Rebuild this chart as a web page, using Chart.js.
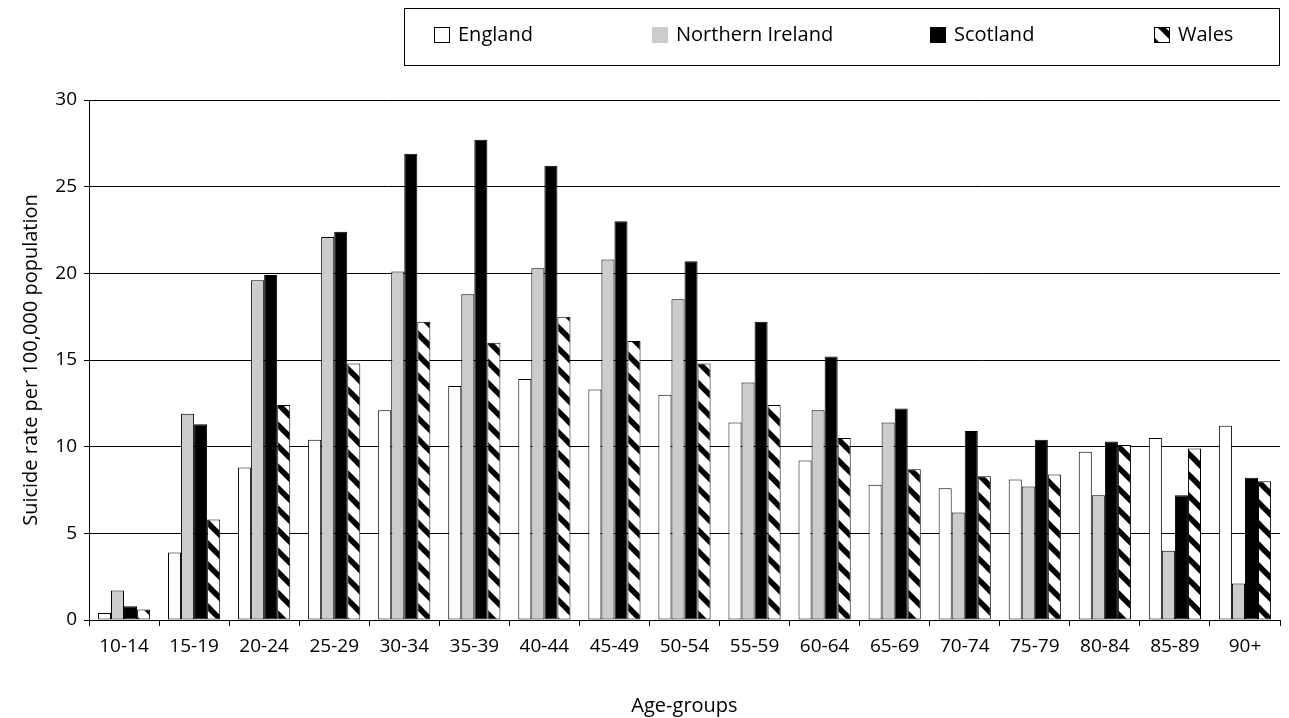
<!DOCTYPE html>
<html>
<head>
<meta charset="utf-8">
<script src="https://cdn.jsdelivr.net/npm/chart.js@4.4.1/dist/chart.umd.min.js"></script>
<style>
html,body{margin:0;padding:0;background:#fff;}
#wrap{width:1289px;height:718px;position:relative;}
</style>
</head>
<body>
<div id="wrap"><canvas id="c" width="1289" height="718"></canvas></div>
<script>
// ---- Data ----
const categories = ['10-14','15-19','20-24','25-29','30-34','35-39','40-44','45-49','50-54','55-59','60-64','65-69','70-74','75-79','80-84','85-89','90+'];
const england         = [0.4, 3.9, 8.8, 10.4, 12.1, 13.5, 13.9, 13.3, 13.0, 11.4, 9.2, 7.8, 7.6, 8.1, 9.7, 10.5, 11.2];
const northernIreland = [1.7, 11.9, 19.6, 22.1, 20.1, 18.8, 20.3, 20.8, 18.5, 13.7, 12.1, 11.4, 6.2, 7.7, 7.2, 4.0, 2.1];
const scotland        = [0.8, 11.3, 19.9, 22.4, 26.9, 27.7, 26.2, 23.0, 20.7, 17.2, 15.2, 12.2, 10.9, 10.4, 10.3, 7.2, 8.2];
const wales           = [0.6, 5.8, 12.4, 14.8, 17.2, 16.0, 17.5, 16.1, 14.8, 12.4, 10.5, 8.7, 8.3, 8.4, 10.1, 9.9, 8.0];
const seriesNames = ['England', 'Northern Ireland', 'Scotland', 'Wales'];
const yTickValues = [0, 5, 10, 15, 20, 25, 30];
const yTitle = 'Suicide rate per 100,000 population';
const xTitle = 'Age-groups';

// ---- Styles ----
const FONT = '"Open Sans", "DejaVu Sans", sans-serif';
const canvas = document.getElementById('c');
const mainCtx = canvas.getContext('2d');

function makeHatch() {
  const s = 21;
  const c = document.createElement('canvas');
  c.width = s; c.height = s;
  const g = c.getContext('2d');
  g.fillStyle = '#fff';
  g.fillRect(0, 0, s, s);
  g.strokeStyle = '#000';
  g.lineWidth = 5.5;
  for (const o of [-s, 0, s]) {
    g.beginPath();
    g.moveTo(o - s, -s);
    g.lineTo(o + 2 * s, 2 * s);
    g.stroke();
  }
  return mainCtx.createPattern(c, 'repeat');
}
const hatch = makeHatch();
const fills = ['#ffffff', '#cccccc', '#000000', hatch];
const seriesData = [england, northernIreland, scotland, wales];

const boxLegend = {
  id: 'boxLegend',
  afterDraw(chart, args, opts) {
    const ctx = chart.ctx;
    ctx.save();
    ctx.strokeStyle = '#000';
    ctx.lineWidth = 1;
    ctx.strokeRect(opts.box[0] + 0.5, opts.box[1] + 0.5, opts.box[2], opts.box[3]);
    ctx.font = '20px ' + FONT;
    ctx.textBaseline = 'middle';
    ctx.textAlign = 'left';
    chart.data.datasets.forEach((ds, i) => {
      const x = opts.itemX[i], y = opts.itemY, sz = opts.size;
      ctx.fillStyle = ds.backgroundColor;
      ctx.fillRect(x, y - sz / 2, sz, sz);
      if (opts.stroke[i]) {
        ctx.strokeStyle = '#000';
        ctx.lineWidth = 1;
        ctx.strokeRect(x + 0.5, y - sz / 2 + 0.5, sz - 1, sz - 1);
      }
      ctx.fillStyle = '#000';
      ctx.fillText(ds.label, x + opts.textGap, y);
    });
    ctx.restore();
  }
};

new Chart(canvas, {
  type: 'bar',
  data: {
    labels: categories,
    datasets: seriesNames.map((name, i) => ({
      label: name,
      data: seriesData[i],
      backgroundColor: fills[i],
      borderColor: '#000',
      borderWidth: 1,
      borderSkipped: false,
      categoryPercentage: 0.745,
      barPercentage: 1.0
    }))
  },
  options: {
    responsive: false,
    animation: false,
    layout: { padding: { top: 100, right: 9, left: 0, bottom: 0 } },
    plugins: {
      legend: { display: false },
      tooltip: { enabled: false },
      boxLegend: {
        box: [404, 8, 875, 57],
        itemX: [434, 652, 930, 1154],
        itemY: 35,
        size: 16,
        textGap: 24,
        stroke: [true, false, true, true]
      }
    },
    scales: {
      x: {
        offset: true,
        grid: { display: true, drawOnChartArea: false, drawTicks: true, tickLength: 6, color: '#000', offset: true },
        border: { display: true, color: '#000', width: 1 },
        ticks: { font: { family: FONT, size: 19 }, color: '#000', padding: 9, maxRotation: 0, autoSkip: false },
        title: { display: true, text: xTitle, font: { family: FONT, size: 20 }, color: '#000', padding: { top: 0, bottom: 0 } },
        afterFit(s) { s.height = 98; }
      },
      y: {
        min: 0,
        max: 30,
        afterBuildTicks(s) { s.ticks = yTickValues.map(v => ({ value: v })); },
        grid: { color: '#000', tickLength: 5, lineWidth: 1 },
        border: { display: true, color: '#000', width: 1 },
        ticks: { font: { family: FONT, size: 19 }, color: '#000', padding: 7 },
        title: { display: true, text: yTitle, font: { family: FONT, size: 20 }, color: '#000', padding: { top: 19, bottom: 0 } },
        afterFit(s) { s.width = 89; }
      }
    }
  },
  plugins: [boxLegend]
});
</script>
</body>
</html>
